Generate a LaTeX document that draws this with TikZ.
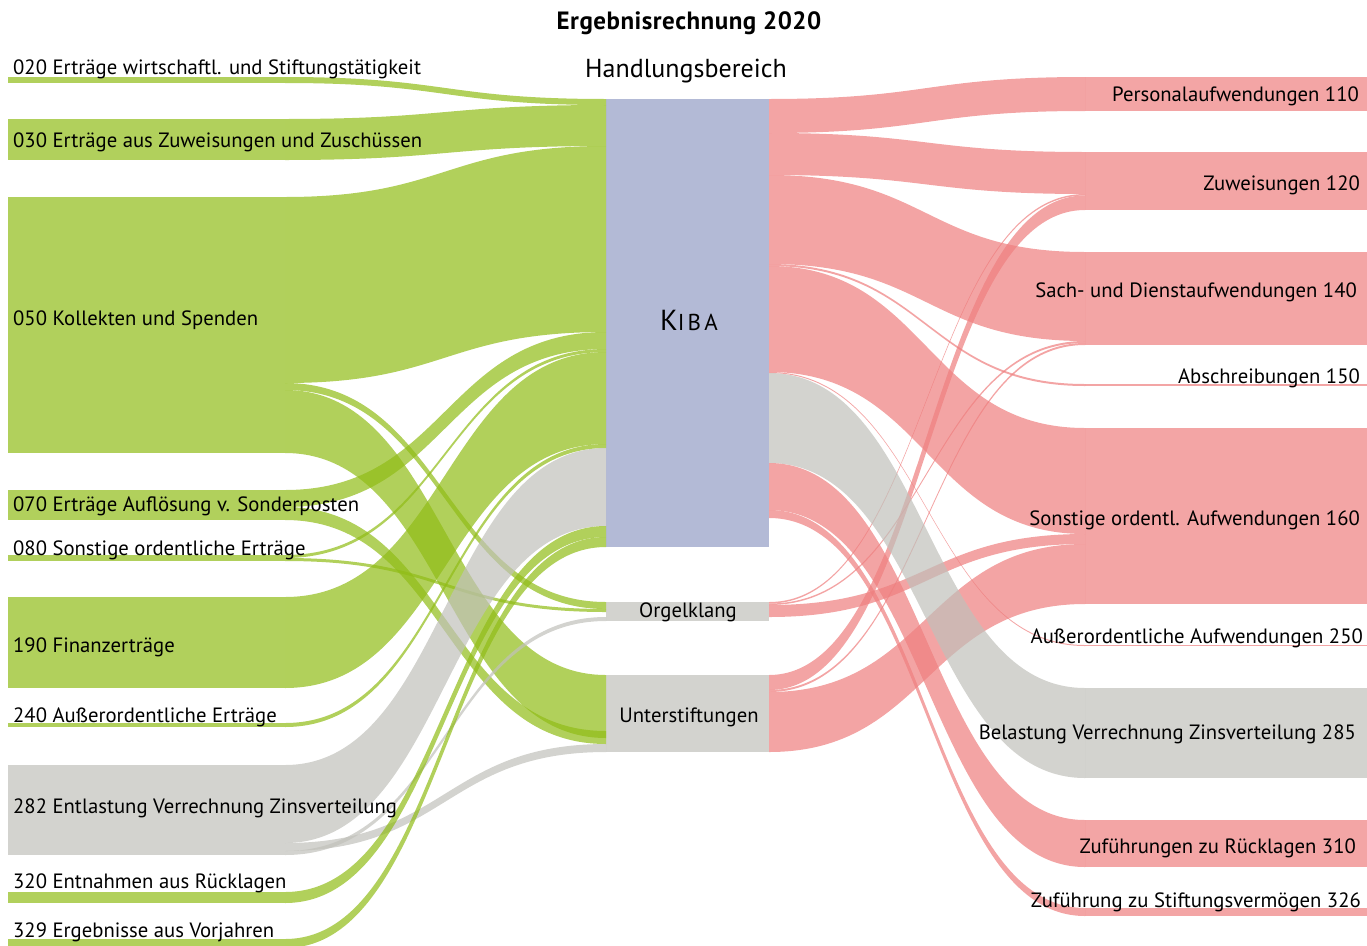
\documentclass[tikz,border=0pt]{standalone}
\usepackage{fontspec}
\setmainfont{PT Sans}
\definecolor{gnode}{RGB}{177,208,92}
\definecolor{glink}{RGB}{144,188,22}
\definecolor{pnode}{RGB}{243,165,165}
\definecolor{plink}{RGB}{238,126,126}
\definecolor{cnode}{RGB}{211,211,207}
\definecolor{clink}{RGB}{192,192,186}
\definecolor{knode}{RGB}{179,186,214}
\tikzset{
  gl/.style={fill=glink,fill opacity=0.7},
  pl/.style={fill=plink,fill opacity=0.7},
  cl/.style={fill=clink,fill opacity=0.7},
  gbox/.style={fill=gnode},
  pbox/.style={fill=pnode},
  cbox/.style={fill=cnode},
  kbox/.style={fill=knode},
  lab/.style={font=\fontsize{20.7}{22}\selectfont,inner sep=0pt},
}
% band: x0, y0a, y0b, x1, y1a, y1b, style
\newcommand\band[7]{%
  \fill[#7] (#1,#2) .. controls ({(#1+#4)/2},#2) and ({(#1+#4)/2},#5) .. (#4,#5)
     -- (#4,#6) .. controls ({(#1+#4)/2},#6) and ({(#1+#4)/2},#3) .. (#1,#3) -- cycle;}
\newcommand\lb[5]{\band{285}{#1}{#2}{606}{#3}{#4}{#5}}
\newcommand\rb[5]{\band{769}{#1}{#2}{1085}{#3}{#4}{#5}}
% box: name, x0, y0, x1, y1, style
\newcommand\nbox[6]{\node[#6,anchor=north west,inner sep=0pt,outer sep=0pt,
  minimum width={(#4-#2)*1pt},minimum height={(#5-#3)*1pt}] (#1) at (#2,#3) {};}
\begin{document}
\begin{tikzpicture}[x=1pt,y=-1pt]
\useasboundingbox (0,0) rectangle (1367,945);
% ---------- left nodes
\nbox{n020}{8}{77}{285}{83}{gbox}
\nbox{n030}{8}{119}{285}{160}{gbox}
\nbox{n050}{8}{197}{285}{453}{gbox}
\nbox{n070}{8}{490}{285}{520}{gbox}
\nbox{n080}{8}{555}{285}{561}{gbox}
\nbox{n190}{8}{597}{285}{688}{gbox}
\nbox{n240}{8}{723}{285}{727}{gbox}
\nbox{n282}{8}{765}{285}{855}{cbox}
\nbox{n320}{8}{892}{285}{903}{gbox}
\nbox{n329}{8}{939}{285}{948}{gbox}
% ---------- middle nodes
\nbox{kiba}{606}{99}{769}{547}{kbox}
\nbox{orgel}{606}{602}{769}{621}{cbox}
\nbox{unter}{606}{675}{769}{752}{cbox}
% ---------- right nodes
\nbox{r110}{1085}{77}{1367}{111}{pbox}
\nbox{r120}{1085}{152}{1367}{210}{pbox}
\nbox{r140}{1085}{252}{1367}{345}{pbox}
\nbox{r150}{1085}{384}{1367}{386}{pbox}
\nbox{r160}{1085}{428}{1367}{604}{pbox}
\nbox{r250}{1085}{645}{1367}{646}{pbox}
\nbox{r285}{1085}{688}{1367}{778}{cbox}
\nbox{r310}{1085}{820}{1367}{867}{pbox}
\nbox{r326}{1085}{908}{1367}{916}{pbox}
% ---------- left links
\lb{77}{83}{99}{105}{gl}
\lb{119}{160}{105}{146}{gl}
\lb{197}{383}{146}{332}{gl}
\lb{383}{390}{602}{609}{gl}
\lb{390}{453}{675}{738}{gl}
\lb{490}{507}{332}{349}{gl}
\lb{507}{520}{731}{744}{gl}
\lb{555}{558}{349}{352}{gl}
\lb{558}{561}{609}{612}{gl}
\lb{597}{688}{352}{444}{gl}
\lb{723}{727}{444}{448}{gl}
\lb{765}{843}{448}{526}{cl}
\lb{843}{851}{744}{752}{cl}
\lb{851}{855}{617}{621}{cl}
\lb{892}{903}{526}{537}{gl}
\lb{939}{948}{537}{547}{gl}
% ---------- right links
\rb{99}{133}{77}{111}{pl}
\rb{133}{175}{152}{194}{pl}
\rb{602}{603.5}{194}{195.5}{pl}
\rb{675}{690}{195.5}{210}{pl}
\rb{175}{264}{252}{341}{pl}
\rb{603.5}{605}{341}{343}{pl}
\rb{690}{692}{343}{345}{pl}
\rb{264}{266}{384}{386}{pl}
\rb{266}{372}{428}{534}{pl}
\rb{605}{617}{534}{544}{pl}
\rb{692}{752}{544}{604}{pl}
\rb{372}{373}{645}{646}{pl}
\rb{373}{463}{688}{778}{cl}
\rb{463}{510}{820}{867}{pl}
\rb{510}{518}{908}{916}{pl}
% ---------- texts
\node[font=\bfseries\fontsize{25}{26}\selectfont\addfontfeature{LetterSpace=2},anchor=base,inner sep=0pt] (title) at (689,29) {Ergebnisrechnung 2020};
\node[font=\fontsize{26}{28}\selectfont,anchor=base,inner sep=0pt] (hb) at (686,77) {Handlungsbereich};
\node[inner sep=0pt] (kibalab) at (689,320) {\addfontfeature{LetterSpace=14}{\fontsize{29}{29}\selectfont K}{\fontsize{23}{23}\selectfont IBA}};
\node[lab,anchor=base] (orgellab) at (688,617) {Orgelklang};
\node[lab,anchor=base] (unterlab) at (689,722) {Unterstiftungen};
\node[lab,anchor=base west] (l020) at (13,74) {020 Erträge wirtschaftl. und Stiftungstätigkeit};
\node[lab,anchor=base west] (l030) at (13,147) {030 Erträge aus Zuweisungen und Zuschüssen};
\node[lab,anchor=base west] (l050) at (13,325) {050 Kollekten und Spenden};
\node[lab,anchor=base west] (l070) at (13,511) {070 Erträge Auflösung v. Sonderposten};
\node[lab,anchor=base west] (l080) at (13,555) {080 Sonstige ordentliche Erträge};
\node[lab,anchor=base west] (l190) at (13,652) {190 Finanzerträge};
\node[lab,anchor=base west] (l240) at (13,722) {240 Außerordentliche Erträge};
\node[lab,anchor=base west] (l282) at (13,813) {282 Entlastung Verrechnung Zinsverteilung};
\node[lab,anchor=base west] (l320) at (13,888) {320 Entnahmen aus Rücklagen};
\node[lab,anchor=base west] (l329) at (13,937) {329 Ergebnisse aus Vorjahren};
\node[lab,anchor=base east] (r110l) at (1359,101) {Personalaufwendungen 110};
\node[lab,anchor=base east] (r120l) at (1360,190) {Zuweisungen 120};
\node[lab,anchor=base east] (r140l) at (1357,297) {Sach- und Dienstaufwendungen 140};
\node[lab,anchor=base east] (r150l) at (1360,383) {Abschreibungen 150};
\node[lab,anchor=base east] (r160l) at (1360,525) {Sonstige ordentl. Aufwendungen 160};
\node[lab,anchor=base east] (r250l) at (1363,643) {Außerordentliche Aufwendungen 250};
\node[lab,anchor=base east] (r285l) at (1356,739) {Belastung Verrechnung Zinsverteilung 285};
\node[lab,anchor=base east] (r310l) at (1356,853) {Zuführungen zu Rücklagen 310};
\node[lab,anchor=base east] (r326l) at (1361,907) {Zuführung zu Stiftungsvermögen 326};
\end{tikzpicture}
\end{document}
